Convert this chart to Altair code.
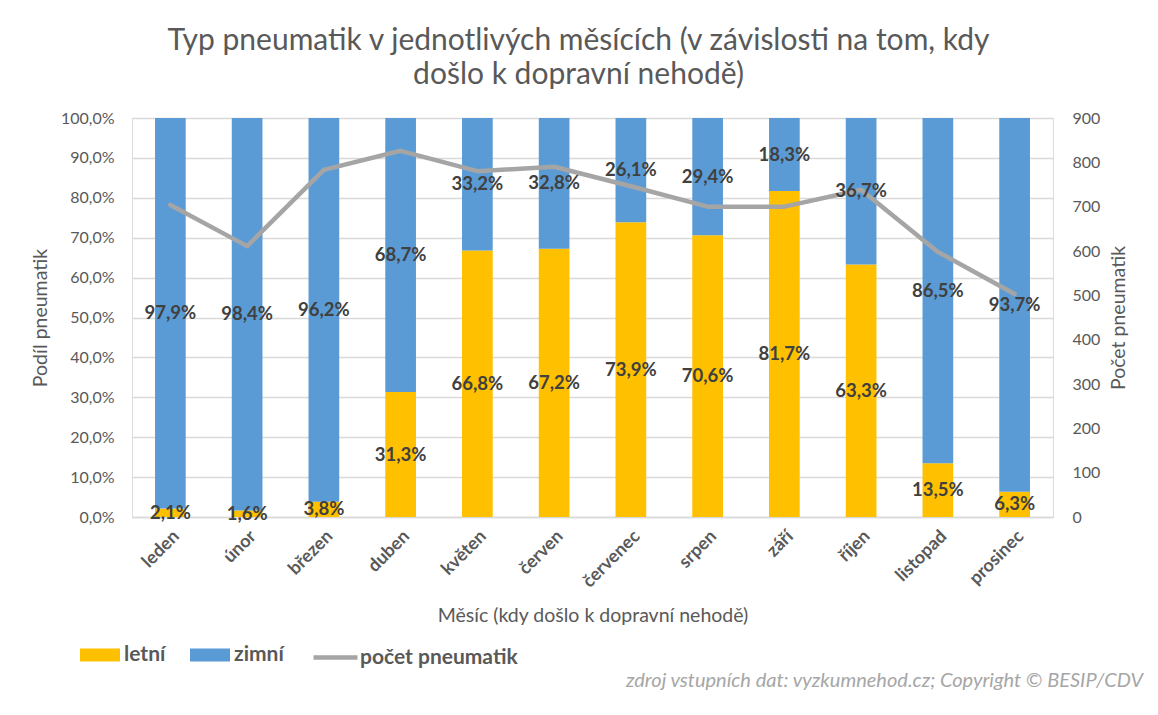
import altair as alt
import pandas as pd

months = ["leden", "únor", "březen", "duben", "květen", "červen",
          "červenec", "srpen", "září", "říjen", "listopad", "prosinec"]
letni = [2.1, 1.6, 3.8, 31.3, 66.8, 67.2, 73.9, 70.6, 81.7, 63.3, 13.5, 6.3]
zimni = [97.9, 98.4, 96.2, 68.7, 33.2, 32.8, 26.1, 29.4, 18.3, 36.7, 86.5, 93.7]
pocet = [704, 611, 783, 826, 780, 790, 746, 700, 700, 738, 598, 503]
types = ["letní", "zimní"]
type_colors = ["#FFC000", "#5B9BD5"]
pct_ticks = [0, 10, 20, 30, 40, 50, 60, 70, 80, 90, 100]
cnt_ticks = [0, 100, 200, 300, 400, 500, 600, 700, 800, 900]
line_name = "počet pneumatik"
footer = "zdroj vstupních dat: vyzkumnehod.cz; Copyright © BESIP/CDV"

FONT = "Lato"
AX = "#595959"
GRID = "#D9D9D9"

rows = []
for i, m in enumerate(months):
    rows.append({"mesic": m, "typ": types[0], "podil": letni[i], "ord": 0})
    rows.append({"mesic": m, "typ": types[1], "podil": zimni[i], "ord": 1})
bars_df = pd.DataFrame(rows)
line_df = pd.DataFrame({"mesic": months, "pocet": pocet, "serie": [line_name] * len(months)})

xenc = alt.X(
    "mesic:N", sort=months,
    scale=alt.Scale(paddingInner=0.6, paddingOuter=0.3),
    axis=alt.Axis(
        title="Měsíc (kdy došlo k dopravní nehodě)", labelAngle=-45,
        labelFont=FONT, labelFontSize=18, labelFontWeight="bold", labelColor=AX,
        titleFont=FONT, titleFontSize=19.5, titleFontWeight="normal", titleColor=AX,
        domainColor=GRID, domainWidth=1.5, ticks=False, labelPadding=10, titlePadding=16,
    ),
)

pct_axis = alt.Axis(
    title="Podíl pneumatik", values=pct_ticks,
    labelExpr="replace(format(datum.value, '.1f'), '.', ',') + '%'",
    labelFont=FONT, labelFontSize=16, labelColor=AX,
    titleFont=FONT, titleFontSize=19.5, titleFontWeight="normal", titleColor=AX,
    grid=True, gridColor=GRID, gridWidth=1.5, domain=False, ticks=False,
    labelPadding=18, titlePadding=10,
)
pct_scale = alt.Scale(domain=[0, 100], nice=False)

bars = alt.Chart(bars_df).mark_bar().encode(
    x=xenc,
    y=alt.Y("podil:Q", stack="zero", scale=pct_scale, axis=pct_axis),
    color=alt.Color(
        "typ:N", scale=alt.Scale(domain=types, range=type_colors),
        legend=alt.Legend(
            title=None, orient="none", direction="horizontal", legendX=-52, legendY=517,
            symbolType="M-1,-0.33H1V0.33H-1Z", symbolSize=1600, symbolOpacity=1,
            symbolStrokeWidth=0, labelFont=FONT, labelFontSize=21, labelFontWeight="bold",
            labelColor=AX, labelOffset=4, columnPadding=24,
        ),
    ),
    order=alt.Order("ord:Q"),
)

labels = alt.Chart(bars_df).transform_stack(
    stack="podil", as_=["y0", "y1"], groupby=["mesic"], sort=[alt.SortField("ord")]
).transform_calculate(
    mid="(datum.y0 + datum.y1) / 2",
    lbl="replace(format(datum.podil, '.1f'), '.', ',') + '%'",
).mark_text(font=FONT, fontSize=18.5, fontWeight="bold", color="#404040").encode(
    x=alt.X("mesic:N", sort=months),
    y=alt.Y("mid:Q", scale=pct_scale, axis=None),
    text="lbl:N",
)

line = alt.Chart(line_df).mark_line(strokeWidth=4.5, strokeJoin="round", strokeCap="round").encode(
    x=alt.X("mesic:N", sort=months),
    y=alt.Y(
        "pocet:Q", scale=alt.Scale(domain=[0, 900], nice=False),
        axis=alt.Axis(
            orient="right", title="Počet pneumatik", values=cnt_ticks,
            labelFont=FONT, labelFontSize=16, labelColor=AX,
            titleFont=FONT, titleFontSize=19.5, titleFontWeight="normal", titleColor=AX,
            titleAngle=270, titleBaseline="top", grid=False, domain=False, ticks=False,
            labelPadding=19, titlePadding=10,
        ),
    ),
    stroke=alt.Stroke(
        "serie:N", scale=alt.Scale(domain=[line_name], range=["#A5A5A5"]),
        legend=alt.Legend(
            title=None, orient="none", direction="horizontal", legendX=179, legendY=515,
            symbolType="stroke", symbolSize=1936, symbolStrokeWidth=4.5,
            labelFont=FONT, labelFontSize=21, labelFontWeight="bold",
            labelColor=AX, labelOffset=0,
        ),
    ),
)

foot = alt.Chart(pd.DataFrame({"t": [footer]})).mark_text(
    font=FONT, fontSize=20, fontStyle="italic", color="#A6A6A6", align="right", baseline="middle"
).encode(x=alt.value(1011), y=alt.value(563), text="t:N")

chart = alt.layer(
    bars, line, labels, foot
).resolve_scale(y="independent", color="independent", stroke="independent").properties(
    width=921, height=399,
    padding={"left": 124, "top": 110, "right": 95, "bottom": 188},
    autosize=alt.AutoSizeParams(type="none"),
    title=alt.TitleParams(
        text=["Typ pneumatik v jednotlivých měsících (v závislosti na tom, kdy",
              "došlo k dopravní nehodě)"],
        font=FONT, fontSize=30, fontWeight="normal", color=AX,
        anchor="middle", dx=-14, offset=20, lineHeight=34,
    ),
).configure_view(stroke=None).configure(background="white")

chart.save("out.html", embed_options={"renderer": "svg", "actions": False})
